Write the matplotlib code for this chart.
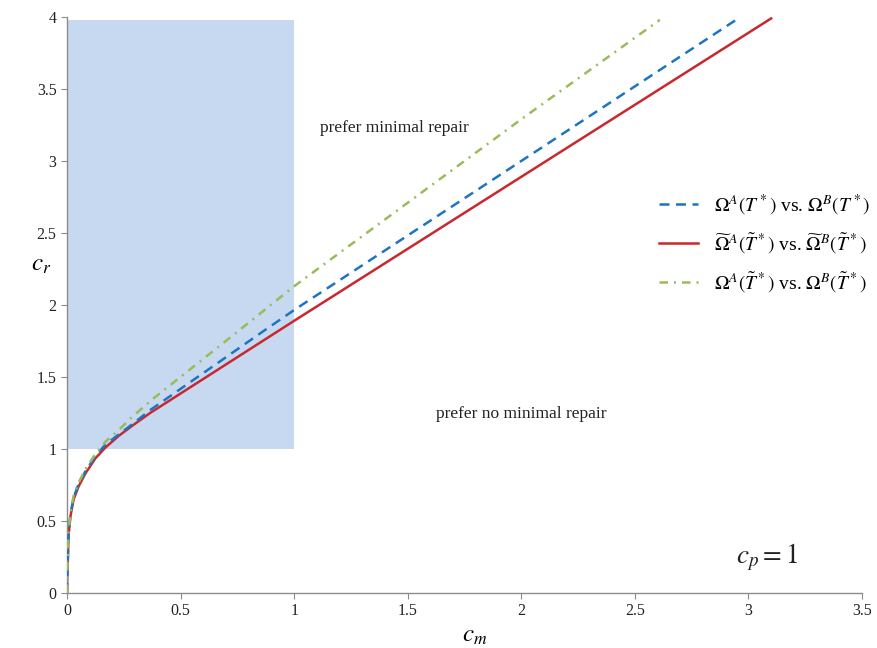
import matplotlib
matplotlib.use("Agg")
import matplotlib.pyplot as plt
from matplotlib.patches import Rectangle

plt.rcParams['font.family'] = ['Liberation Serif', 'DejaVu Serif']
plt.rcParams['mathtext.fontset'] = 'stix'

# threshold curves c_r(c_m), read as points along each curve
red_x = [0, 0.001, 0.003, 0.007, 0.015, 0.029, 0.051, 0.081, 0.125, 0.169, 0.227, 0.286, 0.366, 1.0, 2.0, 3.1]
red_y = [0, 0.10, 0.20, 0.40, 0.53, 0.65, 0.74, 0.83, 0.935, 1.01, 1.09, 1.16, 1.25, 1.89, 2.89, 3.99]

blue_x = [0, 0.001, 0.003, 0.007, 0.015, 0.029, 0.051, 0.081, 0.125, 0.169, 0.227, 0.286, 0.366, 0.857, 1.0, 2.0, 2.965]
blue_y = [0, 0.10, 0.21, 0.41, 0.545, 0.665, 0.755, 0.845, 0.95, 1.03, 1.10, 1.17, 1.27, 1.81, 1.965, 3.0, 4.0]

green_x = [0, 0.001, 0.003, 0.007, 0.015, 0.029, 0.051, 0.081, 0.125, 0.169, 0.227, 0.285, 0.38, 0.747, 1.0, 2.0, 2.61]
green_y = [0, 0.10, 0.22, 0.42, 0.555, 0.675, 0.765, 0.86, 0.965, 1.05, 1.13, 1.22, 1.35, 1.81, 2.13, 3.29, 3.98]

# region where minimal repair is preferred (c_m <= 1, c_r >= 1)
region_x = [0, 1]
region_y = [1, 3.98]

labels = [r'$\Omega^A(T^*)$ vs. $\Omega^B(T^*)$',
          r'$\widetilde{\Omega}^A(\tilde{T}^*)$ vs. $\widetilde{\Omega}^B(\tilde{T}^*)$',
          r'$\Omega^A(\tilde{T}^*)$ vs. $\Omega^B(\tilde{T}^*)$']

fig = plt.figure(figsize=(8.78, 6.48), dpi=100)
ax = fig.add_axes([0.0763, 0.0849, 0.9055, 0.8889])

ax.add_patch(Rectangle((region_x[0], region_y[0]), region_x[1] - region_x[0],
                       region_y[1] - region_y[0], facecolor='#C6D9F0', edgecolor='none', zorder=0))

lw = 1.8
l1, = ax.plot(blue_x, blue_y, color='#1F74C1', lw=lw, dashes=(4, 2.6), label=labels[0], zorder=3)
l2, = ax.plot(red_x, red_y, color='#C8282E', lw=lw, label=labels[1], zorder=2)
l3, = ax.plot(green_x, green_y, color='#9BBB59', lw=lw, dashes=(3.4, 2.4, 0.8, 2.4), label=labels[2], zorder=4)

ax.set_xlim(0, 3.5)
ax.set_ylim(0, 4)
ax.set_xticks([0, 0.5, 1, 1.5, 2, 2.5, 3, 3.5])
ax.set_xticklabels(['0', '0.5', '1', '1.5', '2', '2.5', '3', '3.5'])
ax.set_yticks([0, 0.5, 1, 1.5, 2, 2.5, 3, 3.5, 4])
ax.set_yticklabels(['0', '0.5', '1', '1.5', '2', '2.5', '3', '3.5', '4'])

for s in ['top', 'right']:
    ax.spines[s].set_visible(False)
for s in ['left', 'bottom']:
    ax.spines[s].set_color('#8C8C8C')
    ax.spines[s].set_linewidth(1.0)
ax.tick_params(axis='both', direction='out', length=4, color='#8C8C8C', labelsize=11.5, labelcolor='#222222')
ax.tick_params(axis='x', pad=3)

ax.set_xlabel(r'$c_m$', fontsize=18)
ax.xaxis.set_label_coords(0.513, -0.056)
ax.set_ylabel(r'$c_r$', fontsize=18, rotation=0)
ax.yaxis.set_label_coords(-0.033, 0.55)

ax.text(1.44, 3.23, 'prefer minimal repair', fontsize=12.5, ha='center', va='center', color='#222222')
ax.text(2.0, 1.24, 'prefer no minimal repair', fontsize=12.5, ha='center', va='center', color='#222222')
ax.text(3.08, 0.25, r'$c_p = 1$', fontsize=19.5, ha='center', va='center', color='#222222')

ax.legend(handles=[l1, l2, l3], loc='center left', bbox_to_anchor=(0.723, 0.607),
          frameon=False, fontsize=14, handlelength=2.0, labelspacing=0.75, handletextpad=0.8)

fig.savefig('out.png', dpi=100)
